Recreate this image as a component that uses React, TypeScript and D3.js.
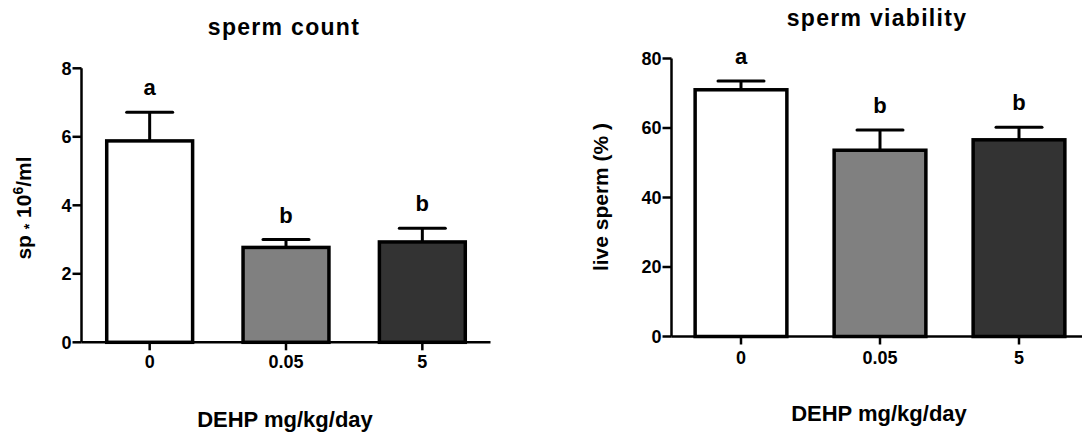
import React from "react";
import * as d3 from "d3";

const categories = ["0", "0.05", "5"];
const countMeans = [5.88, 2.77, 2.93];
const countErrTop = [6.72, 3.0, 3.33];
const countLetters = ["a", "b", "b"];
const countTicks = [0, 2, 4, 6, 8];

const viabMeans = [71.0, 53.6, 56.6];
const viabErrTop = [73.5, 59.4, 60.2];
const viabLetters = ["a", "b", "b"];
const viabTicks = [0, 20, 40, 60, 80];

const fills = ["#ffffff", "#808080", "#333333"];
const FONT = "'Liberation Sans', Arial, Helvetica, sans-serif";

type PanelProps = {
  title: string;
  titleX: number;
  titleY: number;
  xRange: [number, number];
  padding: number;
  yRange: [number, number];
  yMax: number;
  ticks: number[];
  means: number[];
  errTop: number[];
  letters: string[];
  xLabelY: number;
  xTitleX: number;
  xTitleY: number;
  yLabel: React.ReactNode;
  yLabelX: number;
  yLabelY: number;
};

function Panel(p: PanelProps) {
  const x = d3.scaleBand<string>().domain(categories).range(p.xRange).paddingInner(p.padding).paddingOuter(p.padding / 2);
  const y = d3.scaleLinear().domain([0, p.yMax]).range(p.yRange);
  const x0 = p.xRange[0];
  const y0 = y(0);
  return (
    <g fontFamily={FONT} fontWeight="bold" fill="#000">
      <text x={p.titleX} y={p.titleY} textAnchor="middle" fontSize={23} letterSpacing={1.3}>
        {p.title}
      </text>
      {categories.map((c, i) => {
        const bx = x(c)!;
        const bw = x.bandwidth();
        const cx = bx + bw / 2;
        return (
          <g key={c}>
            <line x1={cx} x2={cx} y1={y(p.means[i])} y2={y(p.errTop[i])} stroke="#000" strokeWidth={3} />
            <line x1={cx - 23} x2={cx + 23} y1={y(p.errTop[i])} y2={y(p.errTop[i])} stroke="#000" strokeWidth={3} strokeLinecap="round" />
            <rect x={bx} y={y(p.means[i])} width={bw} height={y0 - y(p.means[i])} fill={fills[i]} stroke="#000" strokeWidth={3.5} />
            <text x={cx} y={y(p.errTop[i]) - 17} textAnchor="middle" fontSize={22}>
              {p.letters[i]}
            </text>
            <line x1={cx} x2={cx} y1={y0} y2={y0 + 8} stroke="#000" strokeWidth={2.5} />
            <text x={cx} y={p.xLabelY} textAnchor="middle" fontSize={18}>
              {c}
            </text>
          </g>
        );
      })}
      <line x1={x0} x2={p.xRange[1]} y1={y0} y2={y0} stroke="#000" strokeWidth={2.5} />
      <line x1={x0} x2={x0} y1={y(p.yMax)} y2={y0} stroke="#000" strokeWidth={2.5} />
      {p.ticks.map((t) => (
        <g key={t}>
          <line x1={x0 - 9} x2={x0} y1={y(t)} y2={y(t)} stroke="#000" strokeWidth={2.5} />
          <text x={x0 - 10} y={y(t)} dy="0.36em" textAnchor="end" fontSize={18}>
            {t}
          </text>
        </g>
      ))}
      <text x={p.xTitleX} y={p.xTitleY} textAnchor="middle" fontSize={22}>
        DEHP mg/kg/day
      </text>
      <text transform={`translate(${p.yLabelX},${p.yLabelY}) rotate(-90)`} textAnchor="middle" fontSize={21}>
        {p.yLabel}
      </text>
    </g>
  );
}

export default function App() {
  return (
    <svg width={1082} height={432} style={{ position: "absolute", left: 0, top: 0, background: "#fff" }}>
      <rect width={1082} height={432} fill="#fff" />
      <Panel
        title="sperm count"
        titleX={284}
        titleY={35}
        xRange={[81.5, 490.5]}
        padding={0.37}
        yRange={[342.3, 68.3]}
        yMax={8}
        ticks={countTicks}
        means={countMeans}
        errTop={countErrTop}
        letters={countLetters}
        xLabelY={368}
        xTitleX={285}
        xTitleY={426.5}
        yLabel={
          <>
            sp <tspan fontSize={14} dy={3}>*</tspan>
            <tspan dy={-3}> 10</tspan>
            <tspan fontSize={14} dy={-8}>6</tspan>
            <tspan dy={8}>/ml</tspan>
          </>
        }
        yLabelX={31}
        yLabelY={208}
      />
      <Panel
        title="sperm viability"
        titleX={877}
        titleY={26}
        xRange={[671.5, 1088.5]}
        padding={0.34}
        yRange={[336.5, 58.5]}
        yMax={80}
        ticks={viabTicks}
        means={viabMeans}
        errTop={viabErrTop}
        letters={viabLetters}
        xLabelY={364}
        xTitleX={879}
        xTitleY={420.5}
        yLabel={<>live sperm (% )</>}
        yLabelX={608}
        yLabelY={197}
      />
    </svg>
  );
}
